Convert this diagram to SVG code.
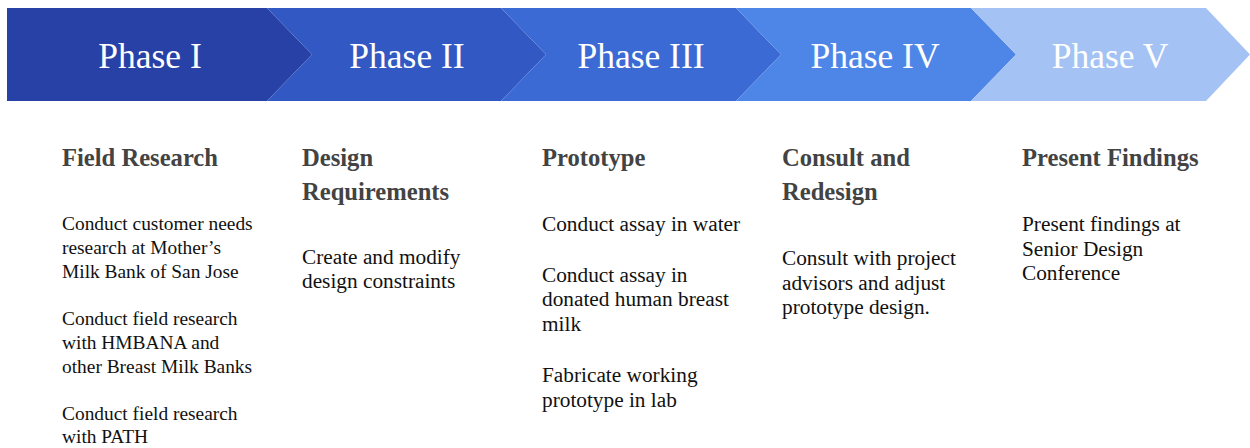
<svg xmlns="http://www.w3.org/2000/svg" width="1250" height="448" viewBox="0 0 1250 448">
<style>
.phase{font-family:"Liberation Serif","Times New Roman",serif;font-size:35.5px;fill:#ffffff;text-anchor:middle}
.head{font-family:"Liberation Serif","Times New Roman",serif;font-size:24.6px;font-weight:bold;fill:#434343}
.body{font-family:"Liberation Serif","Times New Roman",serif;font-size:21.3px;fill:#111111}
.small{font-size:19.4px}
</style>
<rect width="1250" height="448" fill="#ffffff"/>
<g id="phase1">
<polygon points="7,8 267,8 312,54.5 267,101 7,101" fill="#2841a6"/>
<text class="phase" x="150" y="68">Phase I</text>
</g>
<g id="phase2">
<polygon points="267,8 501,8 546,54.5 501,101 267,101 312,54.5" fill="#3258c3"/>
<text class="phase" x="407" y="68">Phase II</text>
</g>
<g id="phase3">
<polygon points="501,8 736,8 781,54.5 736,101 501,101 546,54.5" fill="#3c6ad4"/>
<text class="phase" x="641" y="68">Phase III</text>
</g>
<g id="phase4">
<polygon points="736,8 971,8 1016,54.5 971,101 736,101 781,54.5" fill="#4e86e8"/>
<text class="phase" x="875" y="68">Phase IV</text>
</g>
<g id="phase5">
<polygon points="971,8 1206,8 1250,54.5 1206,101 971,101 1016,54.5" fill="#a4c2f4"/>
<text class="phase" x="1110" y="68">Phase V</text>
</g>
<g id="col1">
<text class="head" x="62" y="166">Field Research</text>
<text class="body small" x="62" y="230">Conduct customer needs</text>
<text class="body small" x="62" y="254">research at Mother’s</text>
<text class="body small" x="62" y="278">Milk Bank of San Jose</text>
<text class="body small" x="62" y="325">Conduct field research</text>
<text class="body small" x="62" y="349">with HMBANA and</text>
<text class="body small" x="62" y="373">other Breast Milk Banks</text>
<text class="body small" x="62" y="420">Conduct field research</text>
<text class="body small" x="62" y="443">with PATH</text>
</g>
<g id="col2">
<text class="head" x="302" y="166">Design</text>
<text class="head" x="302" y="200">Requirements</text>
<text class="body" x="302" y="264">Create and modify</text>
<text class="body" x="302" y="288">design constraints</text>
</g>
<g id="col3">
<text class="head" x="542" y="166">Prototype</text>
<text class="body" x="542" y="231">Conduct assay in water</text>
<text class="body" x="542" y="282">Conduct assay in</text>
<text class="body" x="542" y="306">donated human breast</text>
<text class="body" x="542" y="331">milk</text>
<text class="body" x="542" y="382">Fabricate working</text>
<text class="body" x="542" y="407">prototype in lab</text>
</g>
<g id="col4">
<text class="head" x="782" y="166">Consult and</text>
<text class="head" x="782" y="200">Redesign</text>
<text class="body" x="782" y="265">Consult with project</text>
<text class="body" x="782" y="290">advisors and adjust</text>
<text class="body" x="782" y="314">prototype design.</text>
</g>
<g id="col5">
<text class="head" x="1022" y="166">Present Findings</text>
<text class="body" x="1022" y="231">Present findings at</text>
<text class="body" x="1022" y="256">Senior Design</text>
<text class="body" x="1022" y="280">Conference</text>
</g>
<g id="connectors"/>
</svg>
